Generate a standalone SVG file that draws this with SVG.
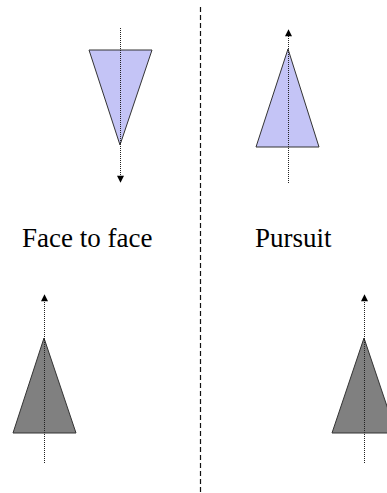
<svg xmlns="http://www.w3.org/2000/svg" width="387" height="493" viewBox="0 0 387 493">
<style>
.blue{fill:#c4c4f6;stroke:#333;stroke-width:1}
.gray{fill:#808080;stroke:#333;stroke-width:1}
.axis{stroke:#222;stroke-width:1;stroke-dasharray:1 1;fill:none}
.div{stroke:#111;stroke-width:1.2;stroke-dasharray:5 3;fill:none}
.lbl{font-family:"Liberation Serif","Times New Roman",Times,"DejaVu Serif",serif;font-size:27px;fill:#000}
</style>
<defs>
<marker id="ah" viewBox="0 0 10 10" refX="9" refY="5" markerWidth="8" markerHeight="7" markerUnits="userSpaceOnUse" orient="auto"><path d="M0,0 L10,5 L0,10 z" fill="#000"/></marker>
</defs>
<rect width="387" height="493" fill="#fff"/>
<g id="divider"><line class="div" x1="200.5" y1="7" x2="200.5" y2="493"/></g>
<g id="tri-face-top"><polygon class="blue" points="89,50 152,50 120,145"/></g>
<g id="tri-pursuit-top"><polygon class="blue" points="288,49 319,147 256,147"/></g>
<g id="tri-face-bottom"><polygon class="gray" points="44,338 76,433 13,433"/></g>
<g id="tri-pursuit-bottom"><polygon class="gray" points="364,338 396,433 332,433"/></g>
<g id="connectors">
<line class="axis" x1="120.5" y1="28" x2="120.5" y2="182" marker-end="url(#ah)"/>
<line class="axis" x1="288.5" y1="183" x2="288.5" y2="30" marker-end="url(#ah)"/>
<line class="axis" x1="44.5" y1="463" x2="44.5" y2="295" marker-end="url(#ah)"/>
<line class="axis" x1="364.5" y1="463" x2="364.5" y2="295" marker-end="url(#ah)"/>
</g>
<g id="labels">
<text class="lbl" x="22" y="247">Face to face</text>
<text class="lbl" x="255" y="247">Pursuit</text>
</g>
</svg>
